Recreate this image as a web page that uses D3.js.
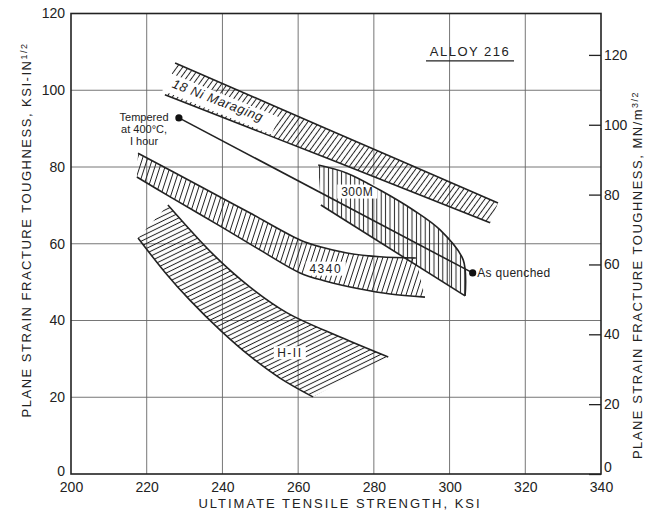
<!DOCTYPE html>
<html>
<head>
<meta charset="utf-8">
<script src="https://cdn.jsdelivr.net/npm/d3@7"></script>
<style>
  body { margin: 0; background: #fff; }
  svg { display: block; font-family: "Liberation Sans", Arial, sans-serif; }
  .tick text { fill: #222; font-size: 14px; }
  .axis path, .axis line { stroke: #222; }
  .grid line { stroke: #666; stroke-width: 0.9; }
  .edge { fill: none; stroke: #222; stroke-width: 1.6; }
  .lbl { fill: #222; font-size: 12px; }
  .title { fill: #222; font-size: 13px; letter-spacing: 1.5px; }
</style>
</head>
<body>
<svg id="chart" width="655" height="514"></svg>
<script>
// tick values
var xTicks = [200, 220, 240, 260, 280, 300, 320, 340];
var yTicks = [0, 20, 40, 60, 80, 100, 120];
var mnTicks = [0, 20, 40, 60, 80, 100, 120];
var ksiToMn = 1.0988;

// band outlines, [strength ksi, toughness ksi-in^1/2]
var maragingUpper = [[227.5, 107.1], [268.4, 89.6], [312.8, 70.6]];
var maragingLower = [[224.8, 98.8], [268.4, 82.0], [310.7, 65.5]];

var m300Upper = [[265.3, 80.5], [272.9, 78.4], [281.6, 74.0], [290.4, 68.8], [297.5, 63.6], [303.6, 55.8], [304.1, 46.4]];
var m300Lower = [[266.0, 70.1], [304.1, 46.4]];

var a4340Upper = [[217.7, 83.6], [234.1, 75.0], [247.3, 68.0], [260.5, 61.0], [265.8, 59.2], [272.9, 57.6], [281.6, 56.6], [291.1, 56.3]];
var a4340Lower = [[217.4, 77.4], [226.2, 72.2], [239.4, 64.6], [249.9, 58.4], [260.5, 52.4], [267.1, 50.3], [276.4, 48.2], [284.3, 46.9], [293.5, 46.1]];

var h11Upper = [[225.6, 70.1], [237.5, 57.3], [247.3, 48.7], [257.1, 42.0], [271.1, 35.7], [283.8, 30.5]];
var h11Lower = [[217.7, 61.5], [224.8, 52.6], [231.4, 45.3], [239.4, 37.5], [247.3, 30.7], [255.2, 25.0], [263.9, 20.1]];

// alloy 216: tempered at 400C -> as quenched
var alloy216 = [[228.5, 92.8], [306.1, 52.4]];

var margin = {top: 13.5, right: 54, bottom: 40, left: 71},
    width = 655 - margin.left - margin.right,
    height = 514 - margin.top - margin.bottom;

var svg = d3.select("#chart");
var chart = svg.append("g")
    .attr("transform", "translate(" + margin.left + "," + margin.top + ")");

var x = d3.scaleLinear().domain([200, 340]).range([0, width]);
var y = d3.scaleLinear().domain([0, 120]).range([height, 0]);
var yMn = d3.scaleLinear().domain([0, 120 * ksiToMn]).range([height, 0]);

// hatch patterns
var defs = svg.append("defs");
function hatch(id, rot, gap) {
    var p = defs.append("pattern")
        .attr("id", id)
        .attr("patternUnits", "userSpaceOnUse")
        .attr("width", gap)
        .attr("height", gap)
        .attr("patternTransform", "rotate(" + rot + ")");
    p.append("line")
        .attr("x1", gap / 2).attr("y1", 0)
        .attr("x2", gap / 2).attr("y2", gap)
        .attr("stroke", "#222")
        .attr("stroke-width", 1);
}
hatch("hMar", 36, 4.6);
hatch("h300", 0, 4.4);
hatch("h4340", 18, 4.8);
hatch("hH11", 64, 4.4);

// grid
chart.append("g").attr("class", "grid")
    .selectAll("line")
    .data(xTicks.slice(1, -1))
  .enter().append("line")
    .attr("x1", function(d) { return x(d); })
    .attr("x2", function(d) { return x(d); })
    .attr("y1", 0).attr("y2", height);

chart.append("g").attr("class", "grid")
    .selectAll("line")
    .data(yTicks.slice(1, -1))
  .enter().append("line")
    .attr("y1", function(d) { return y(d); })
    .attr("y2", function(d) { return y(d); })
    .attr("x1", 0).attr("x2", width);

// bands
var line = d3.line()
    .x(function(d) { return x(d[0]); })
    .y(function(d) { return y(d[1]); })
    .curve(d3.curveCatmullRom.alpha(0.5));

function band(upper, lower, fillId) {
    var d = line(upper) + "L" + line(lower.slice().reverse()).slice(1) + "Z";
    chart.append("path")
        .attr("d", d)
        .attr("fill", "url(#" + fillId + ")");
}
function edge(pts) {
    chart.append("path").attr("class", "edge").attr("d", line(pts));
}

band(maragingUpper, maragingLower, "hMar");
band(a4340Upper, a4340Lower, "h4340");
band(h11Upper, h11Lower, "hH11");
band(m300Upper, m300Lower, "h300");

// white patches where labels sit
function clearBox(cx, cy, w, h, rot) {
    chart.append("rect")
        .attr("x", -w / 2).attr("y", -h / 2)
        .attr("width", w).attr("height", h)
        .attr("fill", "#fff")
        .attr("transform", "translate(" + x(cx) + "," + y(cy) + ") rotate(" + rot + ")");
}
clearBox(239.5, 96.5, 118, 19, 22);
clearBox(275.6, 73.6, 40, 14, 0);
clearBox(267.3, 53.5, 40, 14, 0);
clearBox(257.8, 31.6, 32, 13, 0);

[maragingUpper, maragingLower, m300Upper, m300Lower,
 a4340Upper, a4340Lower, h11Upper, h11Lower].forEach(edge);

// alloy 216 line
chart.append("path")
    .attr("class", "edge")
    .attr("d", d3.line()
        .x(function(d) { return x(d[0]); })
        .y(function(d) { return y(d[1]); })(alloy216));

chart.selectAll(".dot")
    .data(alloy216)
  .enter().append("circle")
    .attr("class", "dot")
    .attr("cx", function(d) { return x(d[0]); })
    .attr("cy", function(d) { return y(d[1]); })
    .attr("r", 3.6)
    .attr("fill", "#111");

// frame + axes
chart.append("rect")
    .attr("width", width).attr("height", height)
    .attr("fill", "none").attr("stroke", "#222").attr("stroke-width", 1.6);

var left = chart.append("g")
    .attr("class", "axis")
    .call(d3.axisLeft(y).tickValues(yTicks).tickSize(0).tickPadding(6))
    .call(function(g) { g.select(".domain").remove(); });
left.selectAll(".tick").filter(function(d) { return d === 0; })
    .select("text").attr("dy", "0.1em");

chart.append("g")
    .attr("class", "axis")
    .attr("transform", "translate(0," + height + ")")
    .call(d3.axisBottom(x).tickValues(xTicks).tickSize(0).tickPadding(8))
    .call(function(g) { g.select(".domain").remove(); });

var right = chart.append("g")
    .attr("class", "axis")
    .attr("transform", "translate(" + width + ",0)")
    .call(d3.axisRight(yMn).tickValues(mnTicks).tickSize(-12).tickPadding(3))
    .call(function(g) { g.select(".domain").remove(); });
right.selectAll(".tick line").attr("stroke-width", 1.3);
right.selectAll(".tick text").attr("text-anchor", "start").attr("x", 3);
right.selectAll(".tick").filter(function(d) { return d === 0; })
    .select("text").attr("dy", "-0.2em");

// labels
chart.append("text").attr("class", "lbl")
    .attr("transform", "translate(" + x(238.8) + "," + y(97.4) + ") rotate(21)")
    .attr("text-anchor", "middle").attr("dy", "0.35em")
    .style("font-style", "italic").style("font-size", "13px")
    .style("letter-spacing", "0.6px")
    .text("18 Ni Maraging");

chart.append("text").attr("class", "lbl")
    .attr("x", x(275.6)).attr("y", y(73.6)).attr("dy", "0.35em")
    .attr("text-anchor", "middle").style("letter-spacing", "0.5px").text("300M");
chart.append("text").attr("class", "lbl")
    .attr("x", x(267.3)).attr("y", y(53.5)).attr("dy", "0.35em")
    .attr("text-anchor", "middle").style("letter-spacing", "1.5px").text("4340");
chart.append("text").attr("class", "lbl")
    .attr("x", x(257.8)).attr("y", y(31.6)).attr("dy", "0.35em")
    .attr("text-anchor", "middle").style("letter-spacing", "1.5px").text("H-II");

["Tempered", "at 400\u00B0C,", "I hour"].forEach(function(t, i) {
    chart.append("text").attr("class", "lbl")
        .attr("text-anchor", "middle")
        .style("font-size", "11px")
        .attr("x", x(219.3))
        .attr("y", y(92.8) + 3 + i * 12)
        .text(t);
});

chart.append("text").attr("class", "lbl")
    .attr("x", x(307.3)).attr("y", y(52.4)).attr("dy", "0.35em")
    .style("letter-spacing", "0.3px")
    .text("As quenched");

chart.append("text").attr("class", "title")
    .attr("x", x(305.4)).attr("y", y(110)).attr("dy", "0.35em")
    .attr("text-anchor", "middle").text("ALLOY 216");
chart.append("line")
    .attr("x1", x(305.4) - 44).attr("x2", x(305.4) + 44)
    .attr("y1", y(110) + 9).attr("y2", y(110) + 9)
    .attr("stroke", "#222").attr("stroke-width", 1.3);

// axis titles
svg.append("text").attr("class", "title")
    .attr("x", margin.left + width / 2 + 4).attr("y", 508)
    .attr("text-anchor", "middle")
    .style("letter-spacing", "2px")
    .text("ULTIMATE TENSILE STRENGTH, KSI");

var lt = svg.append("text").attr("class", "title")
    .attr("transform", "translate(26,230) rotate(-90)")
    .attr("text-anchor", "middle").attr("dy", "0.35em");
lt.append("tspan").text("PLANE STRAIN FRACTURE TOUGHNESS, KSI-IN");
lt.append("tspan").attr("dy", "-0.45em").style("font-size", "9px").text("1/2");

var rt = svg.append("text").attr("class", "title")
    .attr("transform", "translate(637,275) rotate(-90)")
    .attr("text-anchor", "middle").attr("dy", "0.35em");
rt.append("tspan").text("PLANE STRAIN FRACTURE TOUGHNESS, MN/m");
rt.append("tspan").attr("dy", "-0.45em").style("font-size", "9px").text("3/2");
</script>
</body>
</html>
